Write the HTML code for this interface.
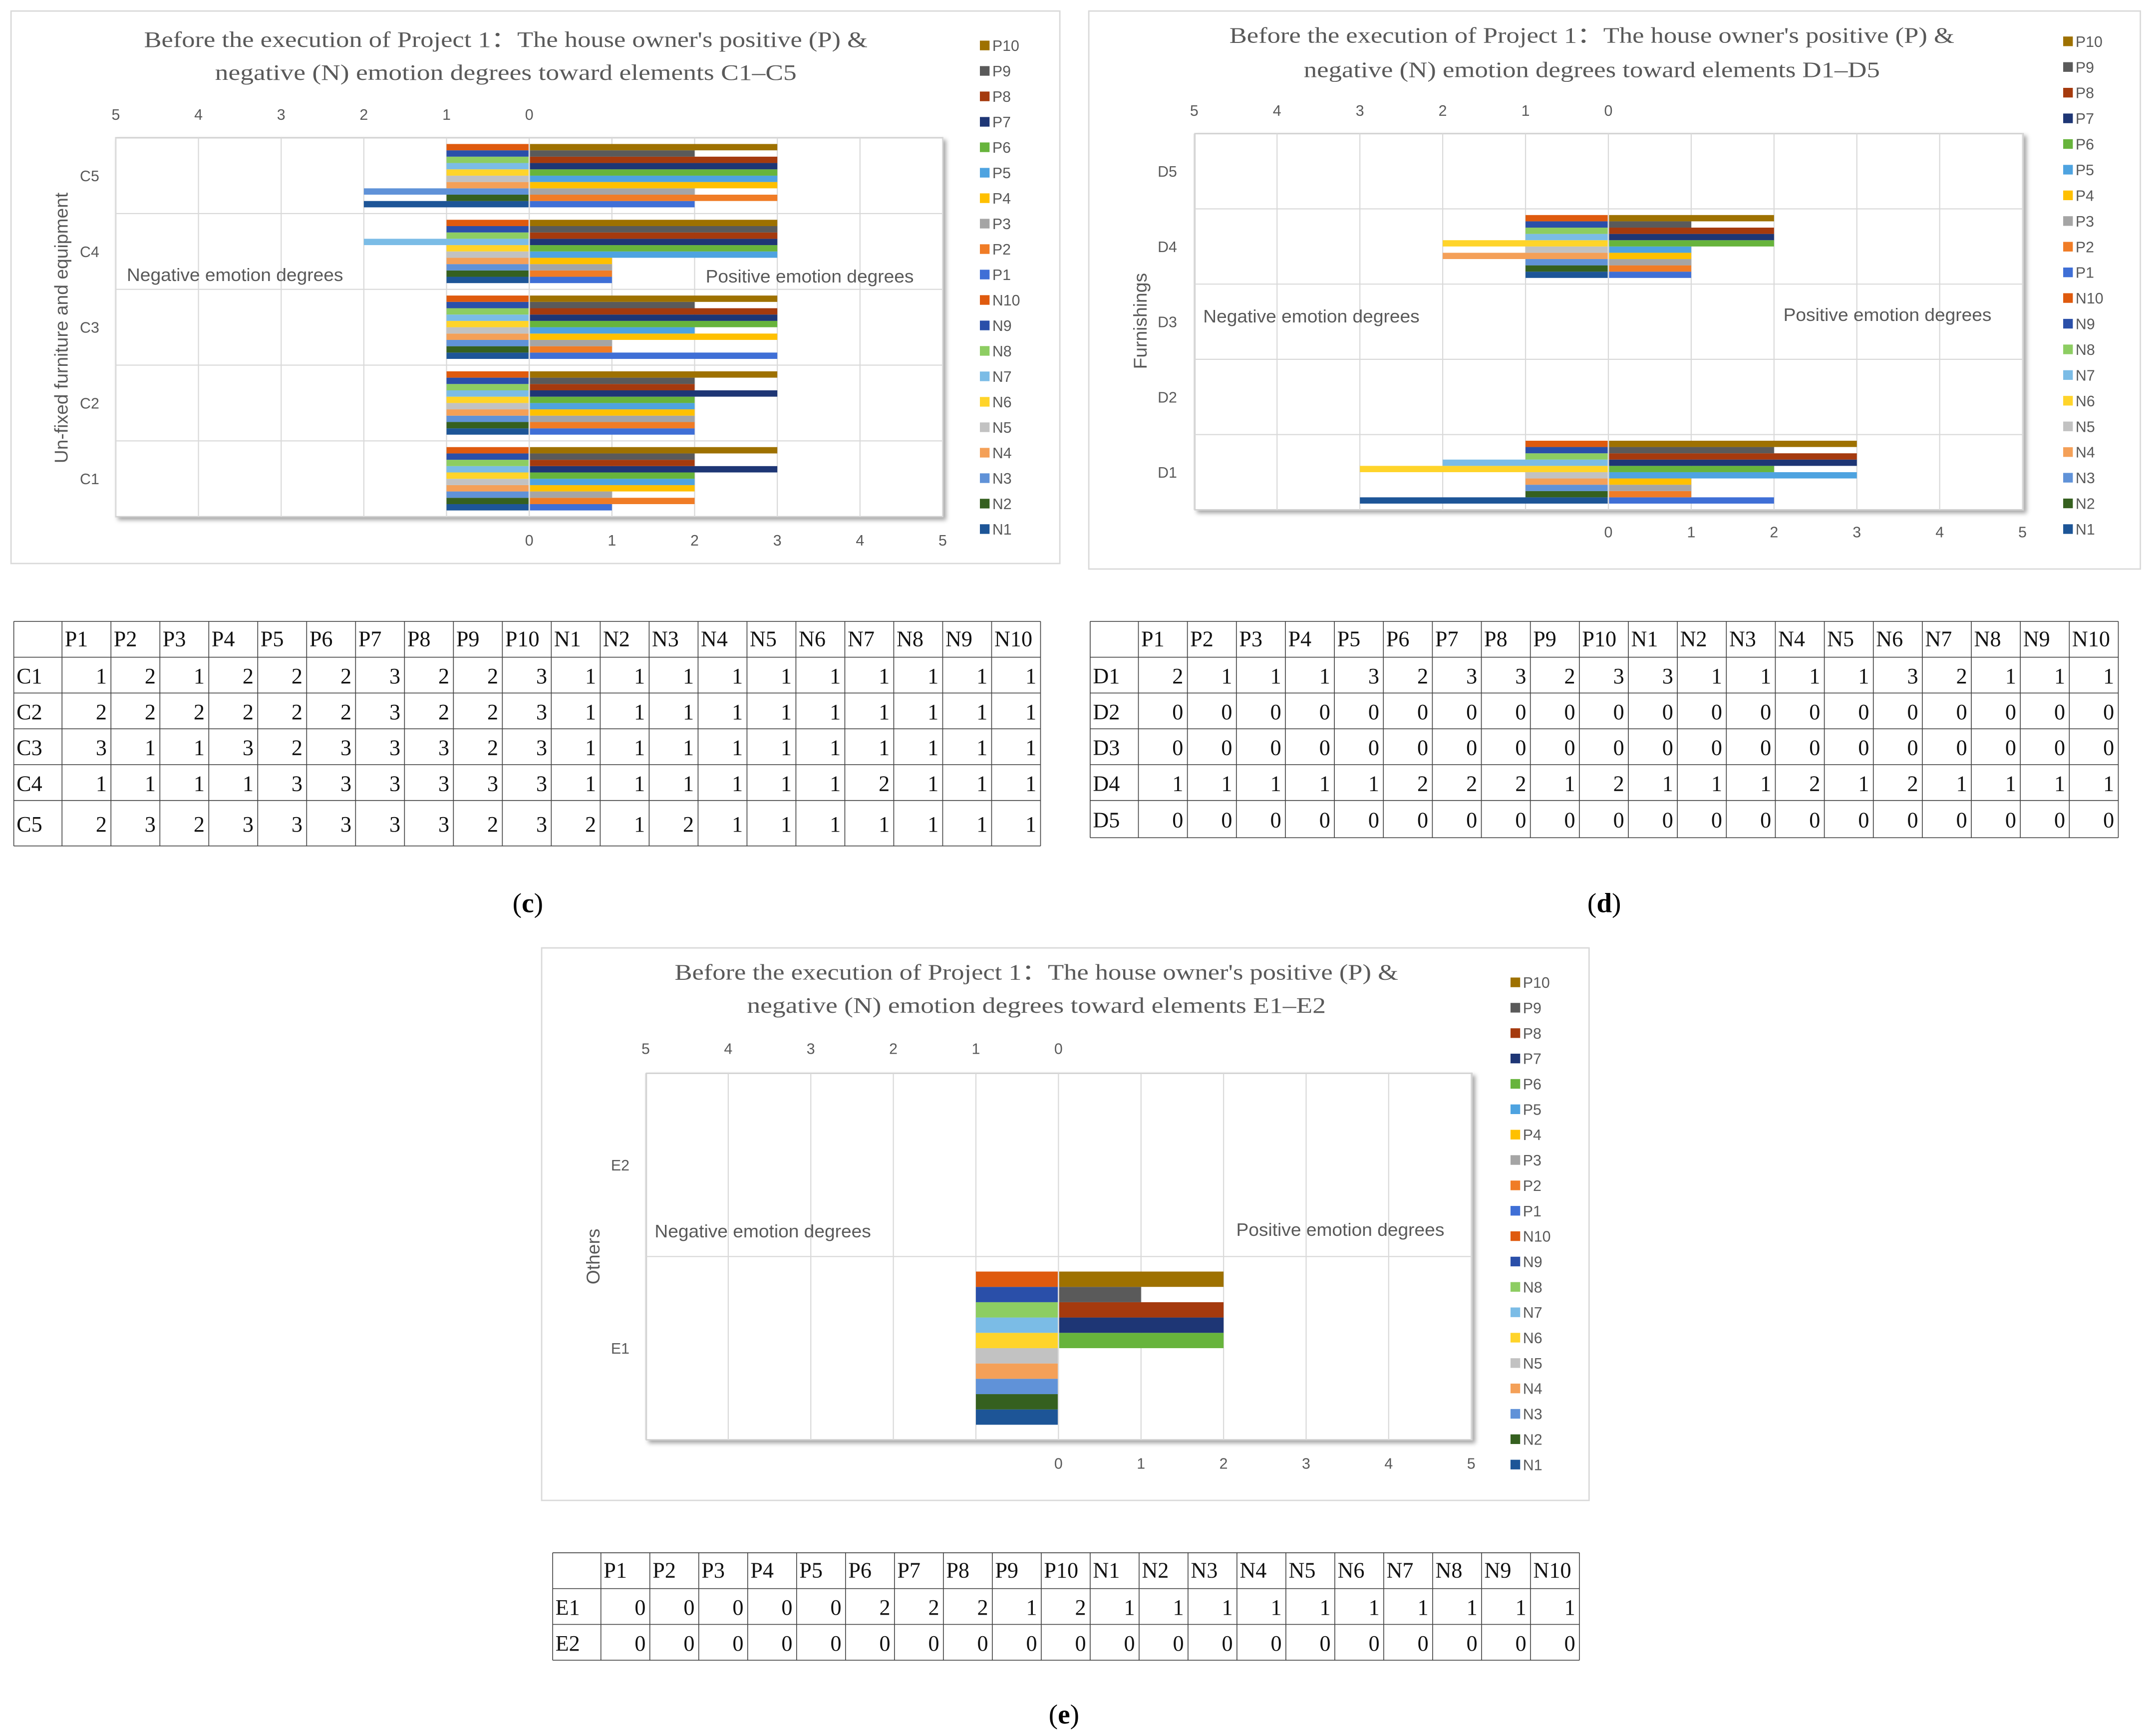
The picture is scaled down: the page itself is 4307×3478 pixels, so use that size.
<!DOCTYPE html>
<html><head><meta charset="utf-8"><style>
html,body{margin:0;padding:0;background:#fff}
svg{display:block}
</style></head><body>
<svg id="root" xmlns="http://www.w3.org/2000/svg" width="4307" height="3478" viewBox="0 0 1560 1260" preserveAspectRatio="none"></svg>
<script>
const seriesNames = ["P1","P2","P3","P4","P5","P6","P7","P8","P9","P10","N1","N2","N3","N4","N5","N6","N7","N8","N9","N10"];
const tickLabels = [0,1,2,3,4,5];
const cCats = ["C1","C2","C3","C4","C5"];
const cP = [[1,2,1,2,2,2,3,2,2,3],[2,2,2,2,2,2,3,2,2,3],[3,1,1,3,2,3,3,3,2,3],[1,1,1,1,3,3,3,3,3,3],[2,3,2,3,3,3,3,3,2,3]];
const cN = [[1,1,1,1,1,1,1,1,1,1],[1,1,1,1,1,1,1,1,1,1],[1,1,1,1,1,1,1,1,1,1],[1,1,1,1,1,1,2,1,1,1],[2,1,2,1,1,1,1,1,1,1]];
const dCats = ["D1","D2","D3","D4","D5"];
const dP = [[2,1,1,1,3,2,3,3,2,3],[0,0,0,0,0,0,0,0,0,0],[0,0,0,0,0,0,0,0,0,0],[1,1,1,1,1,2,2,2,1,2],[0,0,0,0,0,0,0,0,0,0]];
const dN = [[3,1,1,1,1,3,2,1,1,1],[0,0,0,0,0,0,0,0,0,0],[0,0,0,0,0,0,0,0,0,0],[1,1,1,2,1,2,1,1,1,1],[0,0,0,0,0,0,0,0,0,0]];
const eCats = ["E1","E2"];
const eP = [[0,0,0,0,0,2,2,2,1,2],[0,0,0,0,0,0,0,0,0,0]];
const eN = [[1,1,1,1,1,1,1,1,1,1],[0,0,0,0,0,0,0,0,0,0]];

const pColors = ["#3f6fd6","#f07c26","#a5a5a5","#ffc000","#4ea3e0","#67b43c","#1e3675","#a53a0e","#5a5a5a","#9e7100"];
const nColors = ["#1d5597","#35601f","#6092d8","#f4a058","#c2c2c2","#ffd42a","#7bbce6","#8dcd62","#2a4fa9","#df5a0e"];

const NS="http://www.w3.org/2000/svg";
const root=document.getElementById('root');
function mk(tag,attrs,parent){const e=document.createElementNS(NS,tag);for(const k in attrs)e.setAttribute(k,attrs[k]);(parent||root).appendChild(e);return e;}
function txt(s,attrs,parent){const e=mk('text',attrs,parent);e.textContent=s;return e;}
const SANS='"Liberation Sans Narrow","Liberation Sans",sans-serif';
const SERIF='"Liberation Serif",serif';
const defs=mk('defs',{});
const f=mk('filter',{id:'sh',x:'-5%',y:'-5%',width:'110%',height:'115%'},defs);
mk('feDropShadow',{dx:'2',dy:'2',stdDeviation:'1.5','flood-color':'#000','flood-opacity':'0.35'},f);

function chart(c){
  const g=mk('g',{});
  
  
  const frame=mk('rect',{x:c.bx,y:c.by,width:c.bw,height:c.bh,fill:'#fff',stroke:'#d9d9d9','stroke-width':1},g);
  
  
  const t1=txt(c.t1,{x:c.tx,y:c.ty1,'text-anchor':'middle','font-family':SERIF,'font-size':16,fill:'#595959',textLength:c.tl1,lengthAdjust:'spacingAndGlyphs'},g);
  
  
  const t2=txt(c.t2,{x:c.tx,y:c.ty2,'text-anchor':'middle','font-family':SERIF,'font-size':16,fill:'#595959',textLength:c.tl2,lengthAdjust:'spacingAndGlyphs'},g);
  
  
  const pl=mk('rect',{x:c.L,y:c.T,width:c.R-c.L,height:c.B-c.T,fill:'#fff',stroke:'#d0d0d0','stroke-width':1,filter:'url(#sh)'},g);
  
  
  const U=(c.R-c.L)/10;
  const xs=v=>c.Z+U*v, xn=v=>c.Z-U*v;
  for(let k=-5;k<=5;k++){const x=c.Z+U*k;const gl=mk('line',{x1:x,x2:x,y1:c.T,y2:c.B,stroke:'#d9d9d9','stroke-width':0.8},g);}
  const n=c.cats.length, bH=(c.B-c.T)/n, reg=bH*0.836, off=(bH-reg)/2, rH=reg/10;
  for(let i=1;i<n;i++){const y=c.T+bH*i;const hl=mk('line',{x1:c.L,x2:c.R,y1:y,y2:y,stroke:'#d9d9d9','stroke-width':0.8},g);}
  c.cats.forEach((cat,i)=>{
    const top=c.B-(i+1)*bH;
    const cl=txt(cat,{x:c.catX,y:top+bH/2+4,'text-anchor':'middle','font-family':SANS,'font-size':11,fill:'#595959'},g);
    
    
    for(let s=0;s<10;s++){
      const y=top+off+(9-s)*rH;
      const nv=c.N[i][s], pv=c.P[i][s];
      if(nv>0){const r=mk('rect',{x:xn(nv),y:y,width:xn(0)-xn(nv)-0.5,height:rH,fill:nColors[s]},g);}
      if(pv>0){const r=mk('rect',{x:xs(0)+0.5,y:y,width:xs(pv)-xs(0)-0.5,height:rH,fill:pColors[s]},g);}
    }
  });
  tickLabels.forEach(k=>{
    const a=txt(String(k),{x:xn(k),y:c.topTickY,'text-anchor':'middle','font-family':SANS,'font-size':11,fill:'#595959'},g);
    
    const b=txt(String(k),{x:xs(k),y:c.botTickY,'text-anchor':'middle','font-family':SANS,'font-size':11,fill:'#595959'},g);
    
  });
  const yt=txt(c.yTitle,{x:0,y:0,transform:`translate(${c.ytX},${c.ytY}) rotate(-90)`,'text-anchor':'middle','font-family':'"Liberation Sans",sans-serif','font-size':13.5,fill:'#595959'},g);
  
  const nl=txt('Negative emotion degrees',{x:c.negX,y:c.negY,'font-family':SANS,'font-size':13,fill:'#595959',textLength:157,lengthAdjust:'spacingAndGlyphs'},g);
  
  const pl2=txt('Positive emotion degrees',{x:c.posX,y:c.posY,'font-family':SANS,'font-size':13,fill:'#595959',textLength:151,lengthAdjust:'spacingAndGlyphs'},g);
  
  const order=["P10","P9","P8","P7","P6","P5","P4","P3","P2","P1","N10","N9","N8","N7","N6","N5","N4","N3","N2","N1"];
  const step=(c.lgY1-c.lgY0)/19;
  order.forEach((nm,j)=>{
    const y=c.lgY0+step*j;
    const idx=parseInt(nm.slice(1))-1;
    const col=nm[0]==='P'?pColors[idx]:nColors[idx];
    const lg=mk('g',{},g);
    
    
    mk('rect',{x:c.lgX,y:y-3.5,width:7,height:7,fill:col},lg);
    txt(nm,{x:c.lgX+9,y:y+4,'font-family':SANS,'font-size':11,fill:'#595959'},lg);
  });
}

function table(t){
  const g=mk('g',{});
  
  
  const colW=(t.R-t.c0)/20;
  const xsC=[t.L,t.c0];for(let i=1;i<=20;i++)xsC.push(t.c0+colW*i);
  const ys=t.rows;
  xsC.forEach(x=>mk('line',{x1:x,x2:x,y1:ys[0],y2:ys[ys.length-1],stroke:'#444','stroke-width':0.6},g));
  ys.forEach(y=>mk('line',{x1:t.L,x2:t.R,y1:y,y2:y,stroke:'#444','stroke-width':0.6},g));
  seriesNames.forEach((s,i)=>{const h=txt(s,{x:xsC[i+1]+2,y:ys[0]+18,'font-family':SERIF,'font-size':16,fill:'#111'},g);});
  t.cats.forEach((cat,r)=>{
    const yy=ys[r+1]+(ys[r+2]-ys[r+1])/2+6;
    const cl=txt(cat,{x:t.L+2,y:yy,'font-family':SERIF,'font-size':16,fill:'#111'},g);
    
    const vals=t.P[r].concat(t.N[r]);
    vals.forEach((v,i)=>{const c=txt(String(v),{x:xsC[i+2]-3,y:yy,'text-anchor':'end','font-family':SERIF,'font-size':16,fill:'#111'},g);});
  });
}

chart({id:'c',bx:8,by:8,bw:761,bh:401,tx:367,ty1:34,ty2:58,tl1:525,tl2:422,
  t1:"Before the execution of Project 1：The house owner's positive (P) &",
  t2:"negative (N) emotion degrees toward elements C1–C5",
  L:84,R:684,T:100,B:375,Z:384,cats:cCats,P:cP,N:cN,catX:65,topTickY:87,botTickY:396,
  yTitle:'Un-fixed furniture and equipment',ytX:49,ytY:238,negX:92,negY:204,posX:512,posY:205,
  lgX:711,lgY0:33,lgY1:384});
chart({id:'d',bx:790,by:8,bw:763,bh:405,tx:1155,ty1:31,ty2:56,tl1:526,tl2:418,
  t1:"Before the execution of Project 1：The house owner's positive (P) &",
  t2:"negative (N) emotion degrees toward elements D1–D5",
  L:867,R:1468,T:97,B:370,Z:1167,cats:dCats,P:dP,N:dN,catX:847,topTickY:84,botTickY:390,
  yTitle:'Furnishings',ytX:832,ytY:233,negX:873,negY:234,posX:1294,posY:233,
  lgX:1497,lgY0:30,lgY1:384});
chart({id:'e',bx:393,by:688,bw:760,bh:401,tx:752,ty1:711,ty2:735,tl1:525,tl2:420,
  t1:"Before the execution of Project 1：The house owner's positive (P) &",
  t2:"negative (N) emotion degrees toward elements E1–E2",
  L:469,R:1068,T:779,B:1045,Z:768,cats:eCats,P:eP,N:eN,catX:450,topTickY:765,botTickY:1066,
  yTitle:'Others',ytX:435,ytY:912,negX:475,negY:898,posX:897,posY:897,
  lgX:1096,lgY0:713,lgY1:1063});

table({id:'c',L:10,c0:45,R:755,rows:[451,477,503,529,555,581,614],cats:cCats,P:cP,N:cN});
table({id:'d',L:791,c0:826,R:1537,rows:[451,477,503,529,555,581,608],cats:dCats,P:dP,N:dN});
table({id:'e',L:401,c0:436,R:1146,rows:[1127,1153,1179,1205],cats:eCats,P:eP,N:eN});

[["(c)",383,662],["(d)",1164,662],["(e)",772,1251]].forEach(([s,x,y])=>{
  const t=mk('text',{x:x,y:y,'text-anchor':'middle','font-family':SERIF,'font-size':20,fill:'#000'});
  
  
  const a=mk('tspan',{},t);a.textContent='(';
  const b=mk('tspan',{'font-weight':'bold'},t);b.textContent=s[1];
  const c=mk('tspan',{},t);c.textContent=')';
});
</script>
</body></html>
